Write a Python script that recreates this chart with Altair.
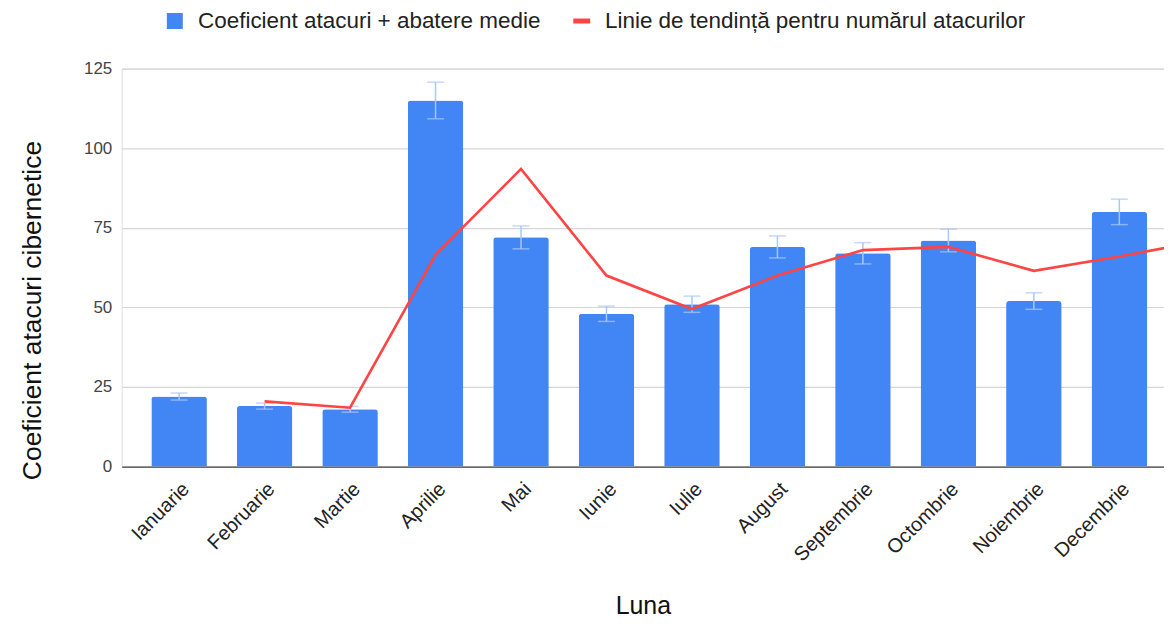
import altair as alt
import pandas as pd

# ---- data ----
luni = ["Ianuarie", "Februarie", "Martie", "Aprilie", "Mai", "Iunie",
        "Iulie", "August", "Septembrie", "Octombrie", "Noiembrie", "Decembrie"]
coeficient = [22, 19, 18, 115, 72, 48, 51, 69, 67, 71, 52, 80]
abatere = [1.1, 0.95, 0.9, 5.75, 3.6, 2.4, 2.55, 3.45, 3.35, 3.55, 2.6, 4.0]
trend_index = [1, 2, 3, 4, 5, 6, 7, 8, 9, 10, 11, 12]
trend_values = [20.5, 18.5, 66.5, 93.5, 60, 49.5, 60, 68, 69, 61.5, 66, 71]
y_ticks = [0, 25, 50, 75, 100, 125]

SERIE_BAR = "Coeficient atacuri + abatere medie"
SERIE_LINE = "Linie de tendință pentru numărul atacurilor"
Y_TITLE = "Coeficient atacuri cibernetice"

FONT = "Liberation Sans"
BLUE = "#4285f4"
ERR = "#a9c7fa"
RED = "#ff4444"

# ---- layout ----
PLOT_W = 1045
PLOT_H = 399
PAD_IN = 0.35
PAD_OUT = 0.272
ALIGN = 0.637
STEP = PLOT_W / (len(luni) - PAD_IN + 2 * PAD_OUT)
first_center = (PLOT_W - STEP * (len(luni) - PAD_IN)) * ALIGN + STEP * (1 - PAD_IN) / 2
q_min = -first_center / STEP
q_max = q_min + PLOT_W / STEP

bars_df = pd.DataFrame({
    "luna": luni,
    "coef": coeficient,
    "lo": [c - a for c, a in zip(coeficient, abatere)],
    "hi": [c + a for c, a in zip(coeficient, abatere)],
    "serie": [SERIE_BAR] * len(luni),
})
line_df = pd.DataFrame({
    "idx": trend_index,
    "val": trend_values,
    "serie": [SERIE_LINE] * len(trend_index),
})

x_band = alt.X(
    "luna:N", sort=luni, title="Luna",
    scale=alt.Scale(paddingInner=PAD_IN, paddingOuter=PAD_OUT, align=ALIGN),
    axis=alt.Axis(
        labelAngle=-45, labelFontSize=20, labelColor="#222222", labelFont=FONT,
        labelPadding=12, ticks=False, grid=False, domain=True, domainColor="#444444",
        domainWidth=1.2, titleFont=FONT, titleFontSize=25, titleFontWeight="normal",
        titleColor="#111111", titleY=147, titleBaseline="alphabetic",
    ),
)
x_plain = alt.X("luna:N", sort=luni, title="Luna")

y_main = alt.Y(
    "coef:Q", title=Y_TITLE,
    scale=alt.Scale(domain=[0, 125], nice=False, zero=True),
    axis=alt.Axis(
        values=y_ticks, labelFontSize=17, labelColor="#444444", labelFont=FONT,
        labelPadding=10, ticks=False, domain=False, grid=True, gridColor="#d6d6d6",
        gridWidth=1.2, titleFont=FONT, titleFontSize=26.5, titleFontWeight="normal",
        titleColor="#111111", titleX=-89, titleY=242, titleAngle=270,
        titleBaseline="middle", titleAlign="center",
    ),
)

bars = alt.Chart(bars_df).mark_bar(
    cornerRadiusTopLeft=3, cornerRadiusTopRight=3
).encode(
    x=x_band,
    y=y_main,
    fill=alt.Fill(
        "serie:N",
        scale=alt.Scale(domain=[SERIE_BAR], range=[BLUE]),
        legend=alt.Legend(
            title=None, orient="none", legendX=42, legendY=-59,
            symbolType="square", symbolSize=256, symbolStrokeWidth=0,
            labelFont=FONT, labelFontSize=22.5, labelColor="#222222",
            labelLimit=800, labelOffset=12,
        ),
    ),
)

err_rule = alt.Chart(bars_df).mark_rule(color=ERR, strokeWidth=1.5).encode(
    x=x_plain,
    y=alt.Y("lo:Q", title=Y_TITLE),
    y2="hi:Q",
)
cap_lo = alt.Chart(bars_df).mark_tick(color=ERR, size=17, thickness=1.5).encode(
    x=x_plain, y=alt.Y("lo:Q", title=Y_TITLE)
)
cap_hi = alt.Chart(bars_df).mark_tick(color=ERR, size=17, thickness=1.5).encode(
    x=x_plain, y=alt.Y("hi:Q", title=Y_TITLE)
)

bar_group = alt.layer(bars, err_rule, cap_lo, cap_hi)

line = alt.Chart(line_df).mark_line(clip=True, strokeWidth=2.6).encode(
    x=alt.X("idx:Q", scale=alt.Scale(domain=[q_min, q_max], nice=False, zero=False),
            axis=None),
    y=alt.Y("val:Q", title=Y_TITLE),
    stroke=alt.Stroke(
        "serie:N",
        scale=alt.Scale(domain=[SERIE_LINE], range=[RED]),
        legend=alt.Legend(
            title=None, orient="none", legendX=450, legendY=-59,
            symbolType="stroke", symbolSize=289, symbolStrokeWidth=5,
            labelFont=FONT, labelFontSize=22.5, labelColor="#222222",
            labelLimit=800, labelOffset=12,
        ),
    ),
)

chart = alt.layer(bar_group, line).resolve_scale(
    x="independent", fill="independent", stroke="independent"
).properties(
    width=PLOT_W,
    height=PLOT_H,
    padding={"left": 114, "top": 60, "right": 0, "bottom": 153},
    autosize=alt.AutoSizeParams(type="none"),
).configure_view(stroke=None).configure(background="white")

chart.save("out.html", embed_options={"renderer": "svg", "actions": False})
